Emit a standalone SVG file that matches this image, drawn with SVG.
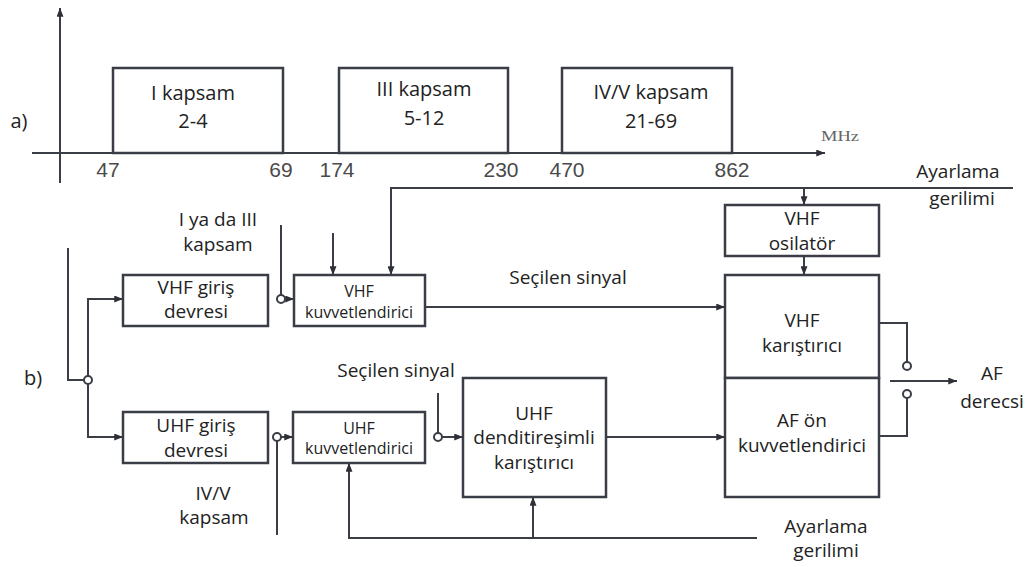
<svg xmlns="http://www.w3.org/2000/svg" width="1030" height="567" viewBox="0 0 1030 567">
  <style>
    .ln { fill: none; stroke: #3a3d45; stroke-width: 2; }
    .box { fill: #ffffff; stroke: #3a3d45; stroke-width: 2.5; }
    .sw { fill: #ffffff; stroke: #3a3d45; stroke-width: 2; }
    .t { font-family: "Open Sans", "Noto Sans", sans-serif; font-size: 19px; fill: #222; text-anchor: middle; }
    .ts { font-family: "Open Sans", "Noto Sans", sans-serif; font-size: 16px; fill: #222; text-anchor: middle; }
    .tl { font-family: "Open Sans", "Noto Sans", sans-serif; font-size: 20px; fill: #222; text-anchor: middle; }
    .num { font-family: "Liberation Sans", Arial, sans-serif; font-size: 21px; fill: #4a4a4a; text-anchor: middle; }
    .unit { font-family: "Liberation Serif", serif; font-size: 15px; fill: #666; }
  </style>
  <defs>
    <marker id="ah" viewBox="0 0 10 8" refX="10" refY="4" markerWidth="9" markerHeight="7" orient="auto" markerUnits="userSpaceOnUse">
      <path d="M0,0 L10,4 L0,8 z" fill="#2e3038"/>
    </marker>
  </defs>
  <rect width="1030" height="567" fill="#ffffff"/>

  <!-- a) frequency axis with the three bands -->
  <g id="axis">
    <line class="ln" x1="60" y1="183" x2="60" y2="8" marker-end="url(#ah)"/>
    <line class="ln" x1="32" y1="153" x2="825" y2="153" marker-end="url(#ah)"/>
    <text class="unit" x="821" y="141" textLength="38" lengthAdjust="spacingAndGlyphs">MHz</text>
    <text class="tl" x="19" y="128">a)</text>
    <text class="num" x="108" y="177">47</text>
    <text class="num" x="281" y="177">69</text>
    <text class="num" x="337" y="177">174</text>
    <text class="num" x="501" y="177">230</text>
    <text class="num" x="567" y="177">470</text>
    <text class="num" x="732" y="177">862</text>
  </g>
  <g id="band1">
    <rect class="box" x="113" y="68" width="170" height="85"/>
    <text class="tl" x="193" y="100">I kapsam</text>
    <text class="tl" x="193" y="128">2-4</text>
  </g>
  <g id="band3">
    <rect class="box" x="339" y="68" width="169" height="85"/>
    <text class="tl" x="424" y="96">III kapsam</text>
    <text class="tl" x="424" y="125">5-12</text>
  </g>
  <g id="band45">
    <rect class="box" x="562" y="68" width="170" height="85"/>
    <text class="tl" x="651" y="99">IV/V kapsam</text>
    <text class="tl" x="651" y="128">21-69</text>
  </g>

  <!-- b) tuner block diagram -->
  <text class="tl" x="33" y="385">b)</text>

  <g id="connectors">
    <!-- antenna input and band switch -->
    <polyline class="ln" points="68,248 68,380 84,380"/>
    <polyline class="ln" points="88,376 88,299 123,299" marker-end="url(#ah)"/>
    <polyline class="ln" points="88,384 88,437 123,437" marker-end="url(#ah)"/>
    <!-- VHF chain -->
    <line class="ln" x1="281" y1="225" x2="281" y2="295"/>
    <line class="ln" x1="285" y1="299" x2="294" y2="299" marker-end="url(#ah)"/>
    <line class="ln" x1="333" y1="233" x2="333" y2="275" marker-end="url(#ah)"/>
    <polyline class="ln" points="1013,188 391,188 391,275" marker-end="url(#ah)"/>
    <line class="ln" x1="804" y1="188" x2="804" y2="205" marker-end="url(#ah)"/>
    <line class="ln" x1="804" y1="256" x2="804" y2="275" marker-end="url(#ah)"/>
    <line class="ln" x1="425" y1="307" x2="725" y2="307" marker-end="url(#ah)"/>
    <!-- UHF chain -->
    <line class="ln" x1="277" y1="441" x2="277" y2="535"/>
    <line class="ln" x1="281" y1="437" x2="293" y2="437" marker-end="url(#ah)"/>
    <line class="ln" x1="438" y1="393" x2="438" y2="433"/>
    <line class="ln" x1="442" y1="437" x2="463" y2="437" marker-end="url(#ah)"/>
    <line class="ln" x1="606" y1="437" x2="725" y2="437" marker-end="url(#ah)"/>
    <polyline class="ln" points="757,538 349,538 349,463" marker-end="url(#ah)"/>
    <line class="ln" x1="533" y1="538" x2="533" y2="497" marker-end="url(#ah)"/>
    <!-- output switch -->
    <polyline class="ln" points="879,323 907,323 907,362"/>
    <polyline class="ln" points="879,436 907,436 907,398"/>
    <line class="ln" x1="890" y1="381" x2="957" y2="381" marker-end="url(#ah)"/>
    <!-- switch contacts -->
    <circle class="sw" cx="88" cy="380" r="4"/>
    <circle class="sw" cx="281" cy="299" r="4"/>
    <circle class="sw" cx="277" cy="437" r="4"/>
    <circle class="sw" cx="438" cy="437" r="4"/>
    <circle class="sw" cx="907" cy="366" r="4"/>
    <circle class="sw" cx="907" cy="394" r="4"/>
  </g>

  <g id="vhf-input">
    <rect class="box" x="123" y="275" width="145" height="51"/>
    <text class="t" x="196" y="294">VHF giriş</text>
    <text class="t" x="196" y="318">devresi</text>
  </g>
  <g id="vhf-amp">
    <rect class="box" x="294" y="275" width="131" height="51"/>
    <text class="ts" x="359" y="297">VHF</text>
    <text class="ts" x="359" y="318">kuvvetlendirici</text>
  </g>
  <g id="uhf-input">
    <rect class="box" x="123" y="412" width="145" height="51"/>
    <text class="t" x="196" y="432">UHF giriş</text>
    <text class="t" x="196" y="457">devresi</text>
  </g>
  <g id="uhf-amp">
    <rect class="box" x="293" y="412" width="132" height="51"/>
    <text class="ts" x="359" y="434">UHF</text>
    <text class="ts" x="359" y="454">kuvvetlendirici</text>
  </g>
  <g id="uhf-mixer">
    <rect class="box" x="463" y="378" width="143" height="119"/>
    <text class="t" x="534" y="420">UHF</text>
    <text class="t" x="534" y="444">denditireşimli</text>
    <text class="t" x="534" y="469">karıştırıcı</text>
  </g>
  <g id="vhf-osc">
    <rect class="box" x="725" y="205" width="154" height="51"/>
    <text class="t" x="802" y="225">VHF</text>
    <text class="t" x="802" y="250">osilatör</text>
  </g>
  <g id="vhf-mixer">
    <rect class="box" x="725" y="275" width="154" height="103"/>
    <text class="t" x="802" y="327">VHF</text>
    <text class="t" x="802" y="352">karıştırıcı</text>
  </g>
  <g id="af-preamp">
    <rect class="box" x="725" y="378" width="154" height="119"/>
    <text class="t" x="802" y="427">AF ön</text>
    <text class="t" x="802" y="452">kuvvetlendirici</text>
  </g>

  <!-- free labels -->
  <g id="labels">
    <text class="t" x="958" y="178">Ayarlama</text>
    <text class="t" x="962" y="205">gerilimi</text>
    <text class="t" x="218" y="226">I ya da III</text>
    <text class="t" x="218" y="251">kapsam</text>
    <text class="t" x="568" y="284">Seçilen sinyal</text>
    <text class="t" x="396" y="377">Seçilen sinyal</text>
    <text class="t" x="213" y="500">IV/V</text>
    <text class="t" x="214" y="524">kapsam</text>
    <text class="t" x="826" y="533">Ayarlama</text>
    <text class="t" x="826" y="557">gerilimi</text>
    <text class="t" x="992" y="380">AF</text>
    <text class="t" x="992" y="408">derecsi</text>
  </g>
</svg>
